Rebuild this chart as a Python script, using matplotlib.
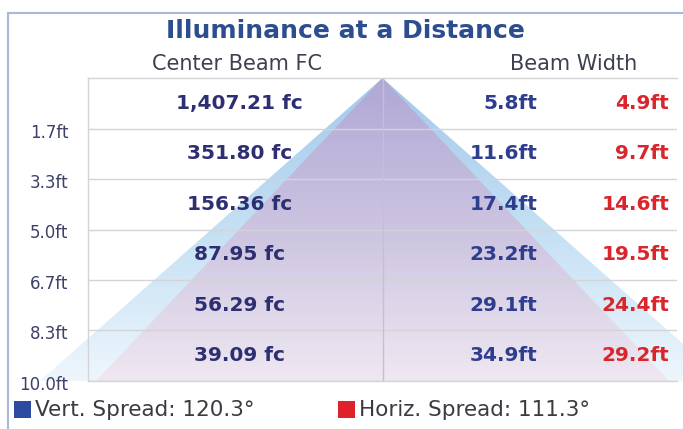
import numpy as np
import matplotlib
matplotlib.use("Agg")
import matplotlib.pyplot as plt
import matplotlib.transforms as mtrans
from matplotlib.patches import Polygon, Rectangle
from matplotlib.lines import Line2D
from matplotlib.colors import LinearSegmentedColormap

# ---- data ----
distances = [1.667, 3.333, 5.0, 6.667, 8.333, 10.0]
dist_labels = ["1.7ft", "3.3ft", "5.0ft", "6.7ft", "8.3ft", "10.0ft"]
center_fc = ["1,407.21 fc", "351.80 fc", "156.36 fc", "87.95 fc", "56.29 fc", "39.09 fc"]
vert_width = [5.8, 11.6, 17.4, 23.2, 29.1, 34.9]
horiz_width = [4.9, 9.7, 14.6, 19.5, 24.4, 29.2]
vert_spread = 120.3
horiz_spread = 111.3

W, H = 683, 429
fig = plt.figure(figsize=(W / 100, H / 100), dpi=100)
fig.patch.set_facecolor("white")

L, R, T, B = 88, 677, 78, 381
ax = fig.add_axes([L / W, 1 - B / H, (R - L) / W, (B - T) / H])
ax.set_facecolor("white")

dmax = distances[-1]

def grad_triangle(width, colors, z):
    half = width / 2
    poly = Polygon([(0, 0), (-half, dmax), (half, dmax)], closed=True,
                   facecolor="none", edgecolor="none", transform=ax.transData)
    ax.add_patch(poly)
    poly.set_clip_on(False)
    cmap = LinearSegmentedColormap.from_list("g", colors)
    grad = np.linspace(0, 1, 256).reshape(-1, 1)
    im = ax.imshow(grad, cmap=cmap, aspect="auto", extent=(-half, half, dmax, 0),
                   origin="upper", zorder=z, interpolation="bilinear")
    im.set_clip_path(poly)
    im.set_clip_box(fig.bbox)
    return im

grad_triangle(vert_width[-1], ["#A4C8EA", "#C4E0F4", "#EEF6FC"], 1)
grad_triangle(horiz_width[-1], ["#B0A8D6", "#CCC4E0", "#EFE8F1"], 2)
ax.set_xlim(-15, 15)
ax.set_ylim(10, 0)

# grid lines
for d in distances:
    ax.axhline(d, color="#D4D4D8", lw=1, zorder=3)
ax.axvline(0, color="#C4C0D0", lw=1, zorder=3)
for s in ["top", "left", "bottom", "right"]:
    ax.spines[s].set_color("#D4D4D8")
    ax.spines[s].set_linewidth(1)
ax.spines["right"].set_visible(False)

ax.set_yticks(distances)
ax.set_yticklabels(dist_labels, fontsize=12, color="#3D4068")
ax.tick_params(axis="y", length=0, pad=14)
ax.set_xticks([])
off = mtrans.ScaledTranslation(0, -2 / 100, fig.dpi_scale_trans)
for lab in ax.get_yticklabels():
    lab.set_transform(lab.get_transform() + off)

# row texts
prev = 0
for d, fc, vw, hw in zip(distances, center_fc, vert_width, horiz_width):
    ym = (prev + d) / 2
    ax.text(-7.3, ym, fc, ha="center", va="center", fontsize=14.5, fontweight="bold",
            color="#2E2F72", zorder=5)
    ax.text(7.9, ym, f"{vw:.1f}ft", ha="right", va="center", fontsize=14.5,
            fontweight="bold", color="#2F3D8F", zorder=5)
    ax.text(14.6, ym, f"{hw:.1f}ft", ha="right", va="center", fontsize=14.5,
            fontweight="bold", color="#D9262C", zorder=5)
    prev = d

# titles
fig.text(345 / W, 1 - 31 / H, "Illuminance at a Distance", ha="center", va="center",
         fontsize=18, fontweight="bold", color="#2C4D8E")
fig.text(237 / W, 1 - 64 / H, "Center Beam FC", ha="center", va="center",
         fontsize=15, color="#3C4050")
fig.text(574 / W, 1 - 64 / H, "Beam Width", ha="center", va="center",
         fontsize=15, color="#3C4050")

# frame lines
fig.add_artist(Line2D([8 / W, 1], [1 - 13 / H, 1 - 13 / H], transform=fig.transFigure,
                      color="#A8B8D8", lw=1.5))
fig.add_artist(Line2D([8 / W, 8 / W], [0, 1 - 13 / H], transform=fig.transFigure,
                      color="#A8B8D8", lw=1.5))

# legend
fig.add_artist(Rectangle((14 / W, 1 - 418 / H), 17 / W, 17 / H, transform=fig.transFigure,
                         facecolor="#2D4AA0", edgecolor="none"))
fig.text(35 / W, 1 - 410 / H, f"Vert. Spread: {vert_spread}°", ha="left", va="center",
         fontsize=15.5, color="#3A3A40")
fig.add_artist(Rectangle((338 / W, 1 - 418 / H), 17 / W, 17 / H, transform=fig.transFigure,
                         facecolor="#E0202A", edgecolor="none"))
fig.text(359 / W, 1 - 410 / H, f"Horiz. Spread: {horiz_spread}°", ha="left", va="center",
         fontsize=15.5, color="#3A3A40")

fig.savefig("out.png", dpi=100, facecolor="white")
